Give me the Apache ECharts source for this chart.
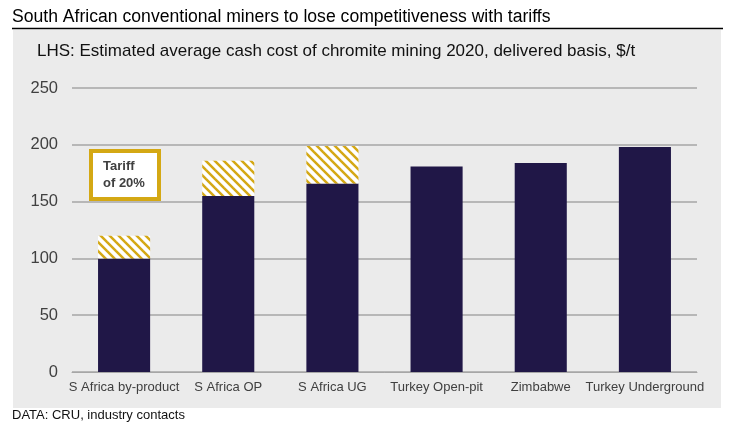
<!DOCTYPE html>
<html>
<head>
<meta charset="utf-8">
<script src="https://cdn.jsdelivr.net/npm/echarts@6/dist/echarts.min.js"></script>
<style>
  html, body { margin: 0; padding: 0; background: #fff; }
  #main { width: 734px; height: 429px; }
</style>
</head>
<body>
<div id="main"></div>
<script>
// data ---------------------------------------------------------------
var categories = ['S Africa by-product', 'S Africa OP', 'S Africa UG', 'Turkey Open-pit', 'Zimbabwe', 'Turkey Underground'];
var cashCost = [100, 155, 166, 181, 184, 198];
var tariff = [20, 31, 33, '-', '-', '-'];
var yTicks = { min: 0, max: 250, interval: 50 };

var navy = '#201747';
var gold = '#D4A814';
var font = "'Liberation Sans', Arial, sans-serif";

// 斜线填充
function hatch() {
    var s = 9;
    var c = document.createElement('canvas');
    c.width = s;
    c.height = s;
    var ctx = c.getContext('2d');
    ctx.fillStyle = '#fff';
    ctx.fillRect(0, 0, s, s);
    ctx.strokeStyle = gold;
    ctx.lineWidth = 2.5;
    for (var k = -1; k <= 1; k++) {
        ctx.beginPath();
        ctx.moveTo(k * s - 1, -1);
        ctx.lineTo(k * s + s + 1, s + 1);
        ctx.stroke();
    }
    return c;
}

var myChart = echarts.init(document.getElementById('main'));
var option = {
    animation: false,
    backgroundColor: '#fff',
    graphic: [
        { type: 'rect', z: -10, shape: { x: 13, y: 30, width: 708, height: 378 }, style: { fill: '#EBEBEB' } },
        { type: 'line', shape: { x1: 12, y1: 28.5, x2: 723, y2: 28.5 }, style: { stroke: '#000', lineWidth: 1.5 } },
        { type: 'text', left: 12, top: 8, style: { text: 'South African conventional miners to lose competitiveness with tariffs', font: '17.6px ' + font, fill: '#000' } },
        { type: 'text', left: 37, top: 43, style: { text: 'LHS: Estimated average cash cost of chromite mining 2020, delivered basis, $/t', font: '17px ' + font, fill: '#111' } },
        { type: 'text', left: 12, top: 409, style: { text: 'DATA: CRU, industry contacts', font: '13px ' + font, fill: '#111' } },
        { type: 'rect', z: 10, shape: { x: 91, y: 151, width: 68, height: 48 }, style: { fill: '#fff', stroke: gold, lineWidth: 4 } },
        { type: 'text', z: 11, left: 103, top: 158, style: { text: 'Tariff\nof 20%', font: 'bold 13px ' + font, fill: '#404040', lineHeight: 17 } }
    ],
    grid: {
        left: 72,
        right: 37,
        top: 88,
        bottom: 57
    },
    xAxis: {
        type: 'category',
        data: categories,
        axisLine: { lineStyle: { color: '#A6A6A6' } },
        axisTick: { length: 4, lineStyle: { color: '#A6A6A6' } },
        axisLabel: { color: '#404040', fontSize: 13, fontFamily: font, margin: 9, interval: 0 }
    },
    yAxis: {
        type: 'value',
        min: yTicks.min,
        max: yTicks.max,
        interval: yTicks.interval,
        axisLine: { show: false },
        axisTick: { show: false },
        splitLine: { lineStyle: { color: '#A6A6A6', width: 1.5 } },
        axisLabel: { color: '#404040', fontSize: 16.5, fontFamily: font, margin: 14 }
    },
    series: [
        {
            name: 'Cash cost',
            type: 'bar',
            stack: 'cost',
            barWidth: '50%',
            data: cashCost,
            itemStyle: { color: navy }
        },
        {
            name: 'Tariff',
            type: 'bar',
            stack: 'cost',
            barWidth: '50%',
            data: tariff,
            itemStyle: { color: { image: hatch(), repeat: 'repeat' } }
        }
    ]
};
option && myChart.setOption(option);
</script>
</body>
</html>
